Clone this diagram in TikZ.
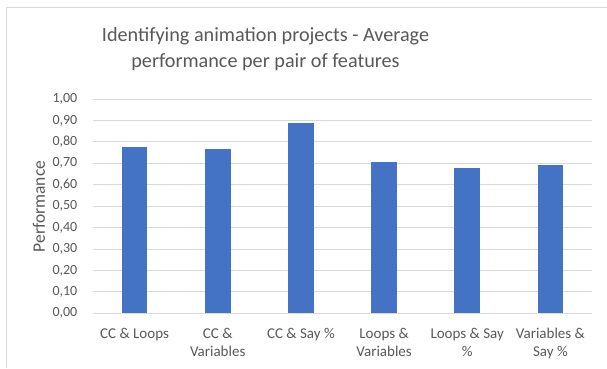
\documentclass[tikz,border=0pt]{standalone}
\usepackage{fontspec}
\setmainfont{Carlito}
\definecolor{barblue}{HTML}{4472C4}
\definecolor{gridgray}{HTML}{D9D9D9}
\definecolor{txtgray}{HTML}{595959}
\tikzset{
  gridline/.style={draw=gridgray, line width=1pt},
  framebox/.style={draw=gridgray, line width=1pt},
  barfill/.style={fill=barblue},
  ticklabel/.style={anchor=east, text=txtgray, font=\fontsize{14}{16}\selectfont, inner sep=0pt},
  catlabel/.style={anchor=base, text=txtgray, font=\fontsize{15}{18}\selectfont, inner sep=0pt, align=center},
  axistitle/.style={text=txtgray, font=\fontsize{17.5}{18}\selectfont, rotate=90, inner sep=0pt},
  charttitle/.style={text=txtgray, font=\fontsize{20.2}{25.5}\selectfont, inner sep=0pt, align=center, anchor=base}
}
\begin{document}
\begin{tikzpicture}[x=1pt,y=-1pt]
\useasboundingbox (0,0) rectangle (607,368);
\fill[white] (0,0) rectangle (607,368);
\draw[framebox] (6,368) -- (6,7) -- (607,7);
% gridlines and tick labels
\foreach \i/\lab in {0/{0,00},1/{0,10},2/{0,20},3/{0,30},4/{0,40},5/{0,50},6/{0,60},7/{0,70},8/{0,80},9/{0,90},10/{1,00}} {
  \draw[gridline] (93,313.3-21.43*\i) -- (592,313.3-21.43*\i);
  \node[ticklabel] (t\i) at (77.5,313.3-21.43*\i) {\lab};
}
% bars
\foreach \v [count=\k] in {0.777,0.767,0.888,0.705,0.680,0.692} {
  \fill[barfill] (93+83.17*\k-41.58-12.8,313.3) rectangle (93+83.17*\k-41.58+12.8,313.3-214.3*\v);
}
% category labels (base anchor = baseline of the last line)
\node[catlabel] (c1) at (134.6,338) {CC \& Loops};
\node[catlabel] (c2) at (217.7,356) {CC \&\\Variables};
\node[catlabel] (c3) at (300.9,338) {CC \& Say \%};
\node[catlabel] (c4) at (384.1,356) {Loops \&\\Variables};
\node[catlabel] (c5) at (467.2,356) {Loops \& Say\\\%};
\node[catlabel] (c6) at (550.4,356) {Variables \&\\Say \%};
% axis title
\node[axistitle] (yt) at (39,206.5) {Performance};
% chart title
\node[charttitle] (title) at (265.5,67) {Identifying animation projects - Average\\performance per pair of features};
\end{tikzpicture}
\end{document}
